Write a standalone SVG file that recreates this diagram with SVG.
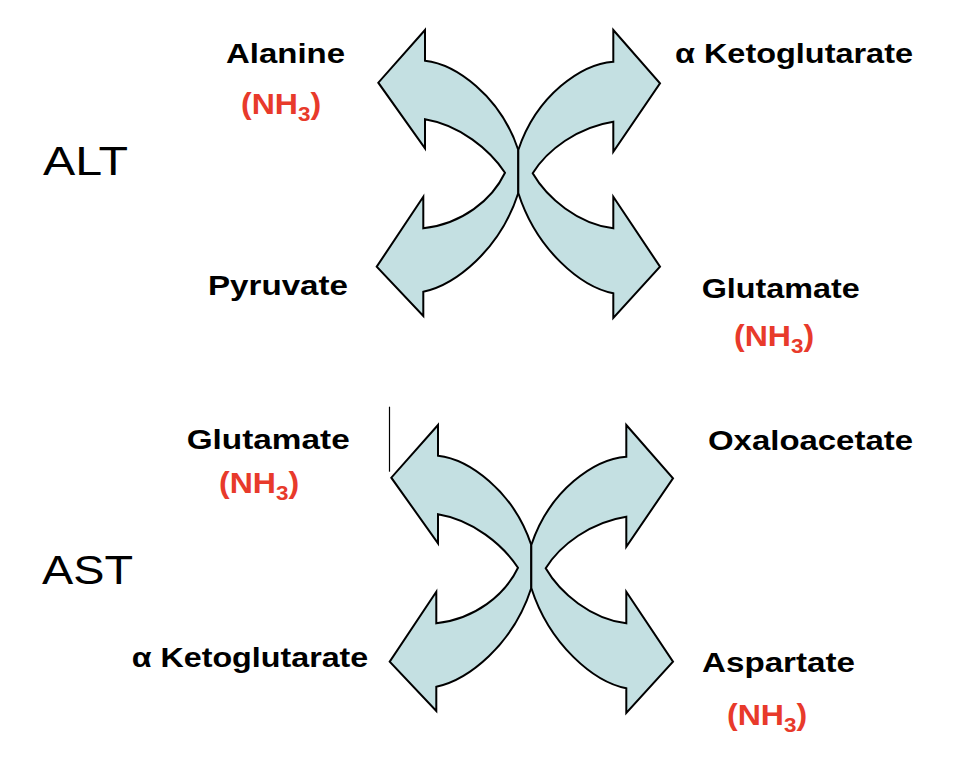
<svg xmlns="http://www.w3.org/2000/svg" xmlns:xlink="http://www.w3.org/1999/xlink" width="974" height="760" viewBox="0 0 974 760">
<style>
.arr{fill:#C4E0E2;stroke:#000;stroke-width:2;stroke-linejoin:miter}
.lbl{font-family:"Liberation Sans",Arial,sans-serif;font-weight:bold;font-size:28px;fill:#000}
.nh{font-family:"Liberation Sans",Arial,sans-serif;font-weight:bold;font-size:30px;fill:#E83A2B}
.big{font-family:"Liberation Sans",Arial,sans-serif;font-size:40px;fill:#000}
</style>
<defs>
<path id="leftShape" class="arr" d="M425,30 L378.3,82.7 L425,148.3 L425,119.3 C460,125 490,150 505,172.7 C492,200 462,224 423.3,228.3 L423.3,196.7 L376.7,266.7 L423.3,316 L423.3,291.7 C455,285 500,250 518.3,193 L518.3,150 C500,95 455,64 425,60.7 Z"/>
<path id="rightShape" class="arr" d="M613.3,30 L660,83.3 L613.3,151.7 L613.3,121.7 C578,127 547,150 532.7,173.3 C547,198 578,224 613.3,228.3 L613.3,196.7 L660,266.7 L613.3,318 L613.3,293.3 C581,287 536.6,250 518.3,193 L518.3,150 C536.6,95 581.6,64 613.3,61.7 Z"/>
<g id="nh3">
<text class="nh" transform="scale(1.07,1)">(NH<tspan font-size="21" dy="7">3</tspan><tspan dy="-7">)</tspan></text>
</g>
</defs>

<g id="alt-arrows">
<use xlink:href="#leftShape"/>
<use xlink:href="#rightShape"/>
</g>
<g id="ast-arrows" transform="translate(13,395)">
<use xlink:href="#leftShape"/>
<use xlink:href="#rightShape"/>
</g>

<g id="alt-label"><text class="big" x="43" y="175" textLength="85" lengthAdjust="spacingAndGlyphs">ALT</text></g>
<g id="ast-label"><text class="big" x="42" y="584" textLength="91" lengthAdjust="spacingAndGlyphs">AST</text></g>

<g id="alanine">
<text class="lbl" x="226" y="63" textLength="119" lengthAdjust="spacingAndGlyphs">Alanine</text>
<use xlink:href="#nh3" transform="translate(241,114)"/>
</g>
<g id="aketo-top">
<text class="lbl" x="675" y="63" textLength="238" lengthAdjust="spacingAndGlyphs">α Ketoglutarate</text>
</g>
<g id="pyruvate">
<text class="lbl" x="208" y="295" textLength="140" lengthAdjust="spacingAndGlyphs">Pyruvate</text>
</g>
<g id="glutamate-top">
<text class="lbl" x="701.7" y="298" textLength="158" lengthAdjust="spacingAndGlyphs">Glutamate</text>
<use xlink:href="#nh3" transform="translate(734,346)"/>
</g>

<g id="glutamate-bottom">
<text class="lbl" x="186.7" y="449" textLength="163" lengthAdjust="spacingAndGlyphs">Glutamate</text>
<use xlink:href="#nh3" transform="translate(219,493)"/>
</g>
<line x1="389.5" y1="406.7" x2="389.5" y2="471.7" stroke="#000" stroke-width="1.2"/>
<g id="oxaloacetate">
<text class="lbl" x="708" y="450" textLength="205" lengthAdjust="spacingAndGlyphs">Oxaloacetate</text>
</g>
<g id="aketo-bottom">
<text class="lbl" x="131.7" y="667" textLength="236.6" lengthAdjust="spacingAndGlyphs">α Ketoglutarate</text>
</g>
<g id="aspartate">
<text class="lbl" x="702" y="672" textLength="153" lengthAdjust="spacingAndGlyphs">Aspartate</text>
<use xlink:href="#nh3" transform="translate(727,725)"/>
</g>
</svg>
